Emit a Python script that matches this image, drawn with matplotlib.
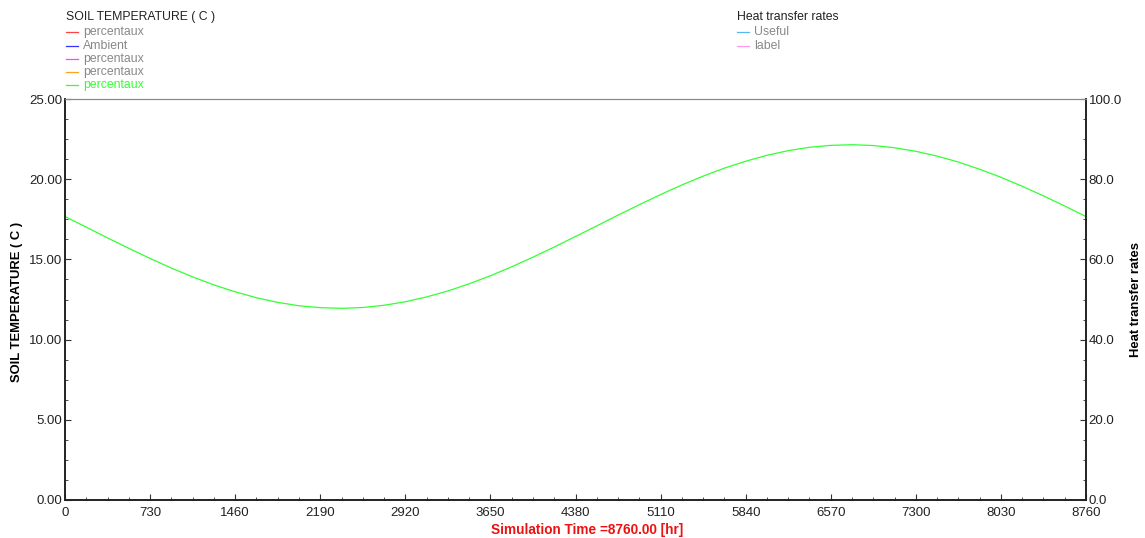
import matplotlib.pyplot as plt
from matplotlib.lines import Line2D
from matplotlib.ticker import MultipleLocator, FormatStrFormatter

plt.rcParams['font.family'] = ['Liberation Sans', 'DejaVu Sans']

# simulation time (hr) and soil temperature (C), sampled every 182.5 hr
hours = [i * 182.5 for i in range(49)]
soil_temp = [17.67, 17.01, 16.34, 15.69, 15.06, 14.46, 13.91, 13.41, 12.98,
             12.61, 12.32, 12.11, 11.99, 11.95, 12.00, 12.14, 12.36, 12.66,
             13.03, 13.48, 13.98, 14.54, 15.14, 15.77, 16.43, 17.09, 17.76,
             18.41, 19.04, 19.64, 20.19, 20.69, 21.12, 21.49, 21.78, 21.99,
             22.11, 22.15, 22.10, 21.96, 21.74, 21.44, 21.07, 20.62, 20.12,
             19.56, 18.96, 18.33, 17.67]

x_ticks = [0, 730, 1460, 2190, 2920, 3650, 4380, 5110, 5840, 6570, 7300, 8030, 8760]

left_names = ['percentaux', 'Ambient', 'percentaux', 'percentaux', 'percentaux']
left_colors = ['#ff4444', '#3333ff', '#ff44ff', '#ffa020', '#33ff33']
right_names = ['Useful', 'label']
right_colors = ['#55bbee', '#ff99ee']

fig = plt.figure(figsize=(11.45, 5.38), dpi=100)
ax = fig.add_axes([65 / 1145, 38 / 538, 1021 / 1145, 401 / 538])
ax2 = ax.twinx()

ax.plot(hours, soil_temp, color='#33ff33', lw=0.9)

ax.set_xlim(0, 8760)
ax.set_ylim(0, 25)
ax2.set_ylim(0, 100)

ax.set_xticks(x_ticks)
ax.xaxis.set_minor_locator(MultipleLocator(182.5))
ax.yaxis.set_major_locator(MultipleLocator(5))
ax.yaxis.set_minor_locator(MultipleLocator(1.25))
ax.yaxis.set_major_formatter(FormatStrFormatter('%.2f'))
ax2.yaxis.set_major_locator(MultipleLocator(20))
ax2.yaxis.set_minor_locator(MultipleLocator(5))
ax2.yaxis.set_major_formatter(FormatStrFormatter('%.1f'))

tick_kw = dict(labelsize=9.5, labelcolor='#222222', color='#333333')
ax.tick_params(axis='x', which='major', direction='in', length=4, pad=5, **tick_kw)
ax.tick_params(axis='x', which='minor', direction='in', length=2, color='#333333')
ax.tick_params(axis='y', which='major', direction='in', length=4, pad=2, **tick_kw)
ax.tick_params(axis='y', which='minor', direction='in', length=2, color='#333333')
ax2.tick_params(axis='y', which='major', direction='in', length=4, pad=2, **tick_kw)
ax2.tick_params(axis='y', which='minor', direction='in', length=2, color='#333333')

for a in (ax, ax2):
    a.spines['top'].set_color('#888888')
    for side in ('left', 'right', 'bottom'):
        a.spines[side].set_color('#222222')
        a.spines[side].set_linewidth(1.2)

ax.set_ylabel('SOIL TEMPERATURE ( C )', fontsize=9.4, fontweight='bold')
ax.yaxis.set_label_coords(-0.041, 0.495)
ax2.set_ylabel('Heat transfer rates', fontsize=9.4, fontweight='bold', rotation=90)
ax2.yaxis.set_label_coords(1.043, 0.5)
ax.set_xlabel('Simulation Time =8760.00 [hr]', fontsize=9.8, fontweight='bold',
              color='#ee1111')
ax.xaxis.set_label_coords(0.511, -0.057)

# series key blocks above the plot
def key_block(x0, title, names, colors, text_colors):
    fig.text(x0 / 1145, 1 - 17 / 538, title, fontsize=8.8, color='#222222', va='center')
    for i, (n, c, tc) in enumerate(zip(names, colors, text_colors)):
        y = 1 - (32.5 + i * 13.2) / 538
        fig.add_artist(Line2D([x0 / 1145, (x0 + 12) / 1145], [y, y],
                              color=c, lw=0.9, transform=fig.transFigure))
        fig.text((x0 + 17) / 1145, y, n, fontsize=8.8, color=tc, va='center')

key_block(66, 'SOIL TEMPERATURE ( C )', left_names, left_colors,
          ['#888888'] * 4 + ['#33ff33'])
key_block(737, 'Heat transfer rates', right_names, right_colors, ['#888888'] * 2)

fig.savefig('out.png', dpi=100)
